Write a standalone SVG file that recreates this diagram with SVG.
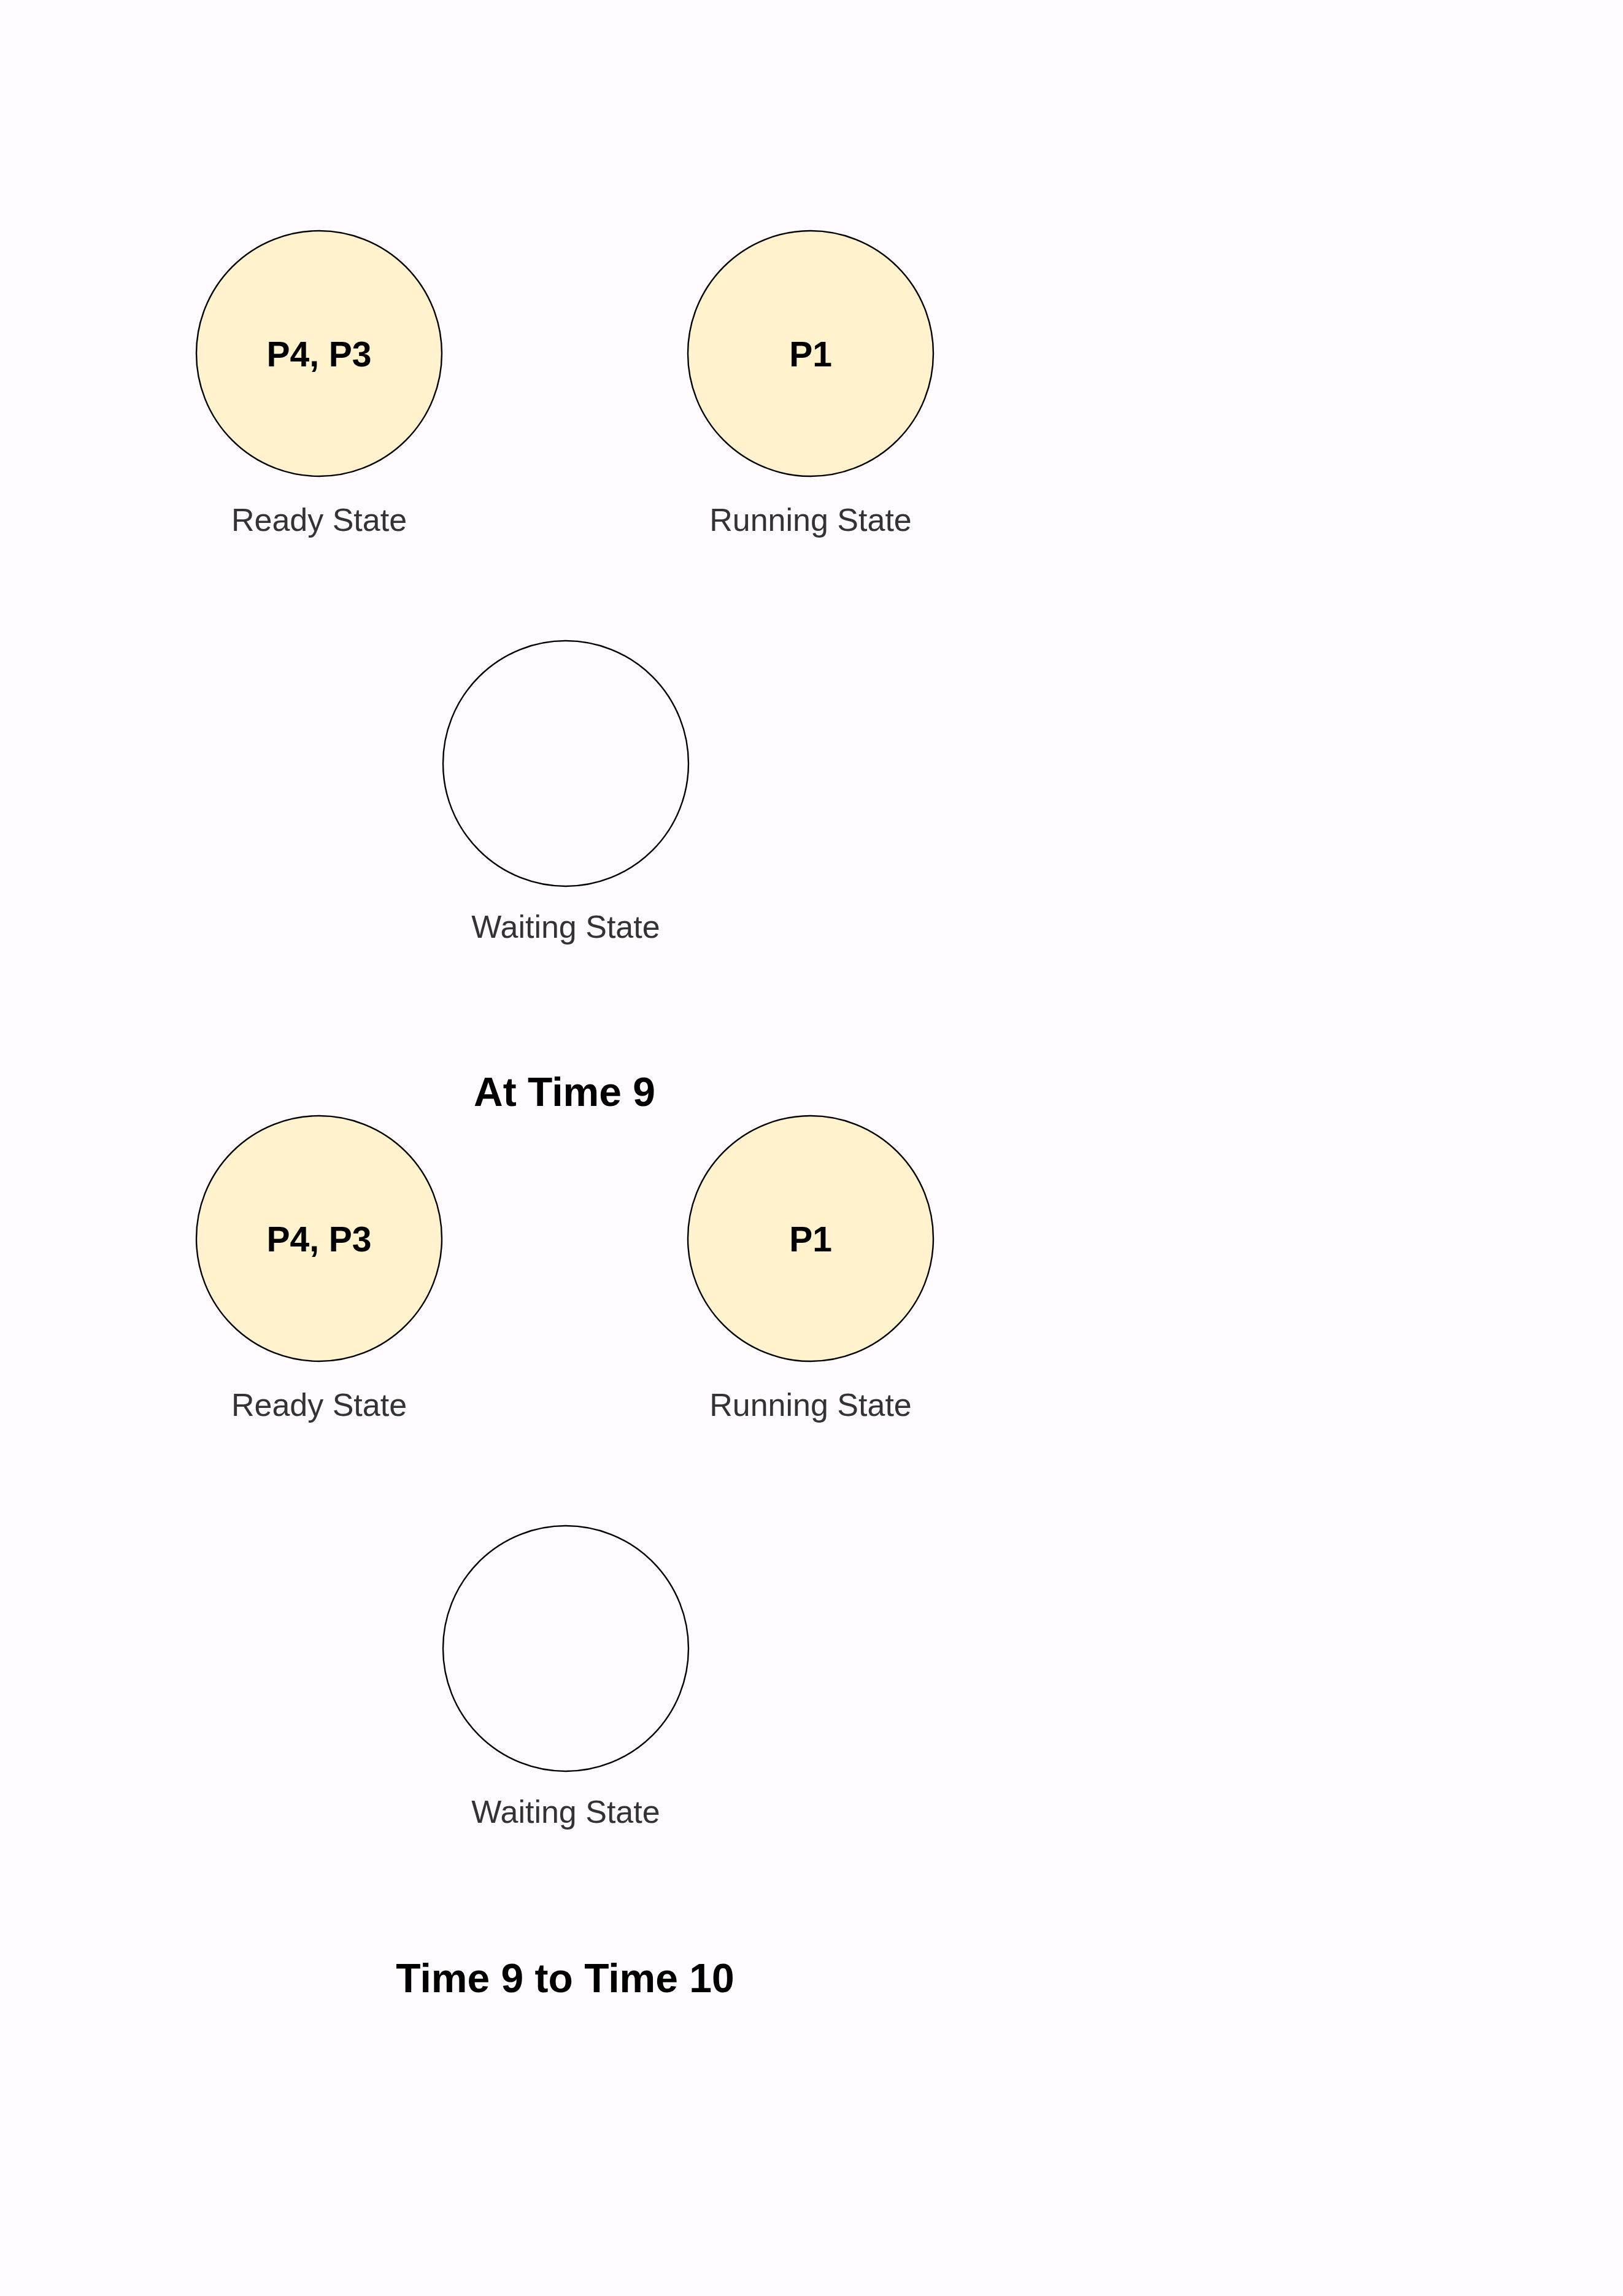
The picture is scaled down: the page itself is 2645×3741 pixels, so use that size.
<svg xmlns="http://www.w3.org/2000/svg" width="2645" height="3741" viewBox="0 0 2645 3741">
  <style>
    .state { stroke: #000000; stroke-width: 2.4; }
    .active { fill: #fff2cc; }
    .empty { fill: #fffbff; }
    .inner { font-family: "Liberation Sans", Arial, sans-serif; font-size: 57px; font-weight: bold; fill: #000000; text-anchor: middle; }
    .label { font-family: "Liberation Sans", Arial, sans-serif; font-size: 52px; fill: #333333; text-anchor: middle; }
    .title { font-family: "Liberation Sans", Arial, sans-serif; font-size: 66px; font-weight: bold; fill: #000000; text-anchor: middle; }
  </style>
  <rect x="0" y="0" width="2645" height="3741" fill="#fffbff"/>

  <g id="connectors"></g>

  <!-- Group 1: At Time 9 -->
  <g id="ready1">
    <circle class="state active" cx="520" cy="576" r="200"/>
    <text class="inner" x="520" y="597">P4, P3</text>
    <text class="label" x="520" y="865">Ready State</text>
  </g>
  <g id="running1">
    <circle class="state active" cx="1321" cy="576" r="200"/>
    <text class="inner" x="1321" y="597">P1</text>
    <text class="label" x="1321" y="865">Running State</text>
  </g>
  <g id="waiting1">
    <circle class="state empty" cx="922" cy="1244" r="200"/>
    <text class="label" x="922" y="1528">Waiting State</text>
  </g>
  <g id="title1">
    <text class="title" x="920" y="1802">At Time 9</text>
  </g>

  <!-- Group 2: Time 9 to Time 10 -->
  <g id="ready2">
    <circle class="state active" cx="520" cy="2018" r="200"/>
    <text class="inner" x="520" y="2039">P4, P3</text>
    <text class="label" x="520" y="2307">Ready State</text>
  </g>
  <g id="running2">
    <circle class="state active" cx="1321" cy="2018" r="200"/>
    <text class="inner" x="1321" y="2039">P1</text>
    <text class="label" x="1321" y="2307">Running State</text>
  </g>
  <g id="waiting2">
    <circle class="state empty" cx="922" cy="2686" r="200"/>
    <text class="label" x="922" y="2970">Waiting State</text>
  </g>
  <g id="title2">
    <text class="title" x="921" y="3246">Time 9 to Time 10</text>
  </g>
</svg>
